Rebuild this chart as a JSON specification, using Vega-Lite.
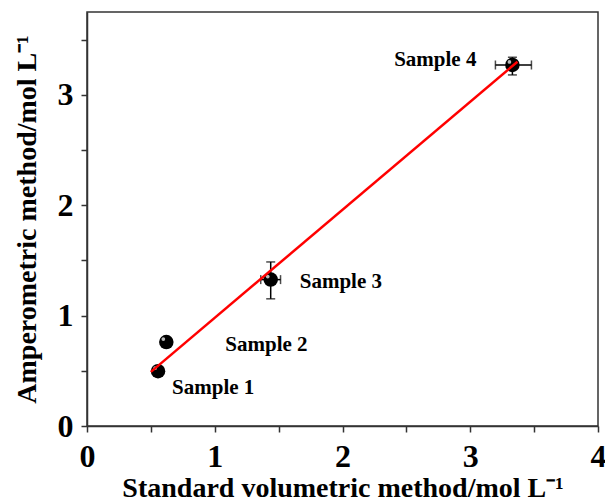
{
  "$schema": "https://vega.github.io/schema/vega-lite/v6.json",
  "width": 511,
  "height": 414,
  "autosize": {"type": "none"},
  "padding": {"left": 87, "top": 12, "right": 7, "bottom": 77},
  "background": "white",
  "config": {
    "view": {"stroke": "#333333", "strokeWidth": 1.5},
    "font": "Liberation Serif",
    "axis": {
      "grid": false,
      "domainColor": "#333333",
      "domainWidth": 1.5,
      "tickColor": "#333333",
      "tickWidth": 1.5,
      "tickSize": 6,
      "labelFont": "Liberation Serif",
      "labelFontWeight": "bold",
      "labelFontSize": 32,
      "labelColor": "black",
      "labelOverlap": false,
      "labelFlush": false,
      "titleFont": "Liberation Serif",
      "titleFontWeight": "bold",
      "titleFontSize": 28,
      "titleColor": "black"
    }
  },
  "datasets": {
    "pts": [
      {"sample": "Sample 1", "x": 0.556, "y": 0.497, "xlo": 0.54, "xhi": 0.57, "ylo": 0.48, "yhi": 0.51},
      {"sample": "Sample 2", "x": 0.621, "y": 0.76, "xlo": 0.61, "xhi": 0.63, "ylo": 0.745, "yhi": 0.775},
      {"sample": "Sample 3", "x": 1.438, "y": 1.326, "xlo": 1.36, "xhi": 1.515, "ylo": 1.152, "yhi": 1.486},
      {"sample": "Sample 4", "x": 3.33, "y": 3.27, "xlo": 3.197, "xhi": 3.479, "ylo": 3.18, "yhi": 3.34}
    ],
    "fit": [
      {"x": 0.5, "y": 0.49},
      {"x": 3.37, "y": 3.30}
    ]
  },
  "layer": [
    {
      "data": {"name": "pts"},
      "mark": {"type": "rule", "color": "black", "strokeWidth": 1.5},
      "encoding": {
        "x": {"field": "x", "type": "quantitative", "scale": {"domain": [0, 4], "nice": false},
          "axis": {"values": [0, 0.5, 1, 1.5, 2, 2.5, 3, 3.5, 4], "labelExpr": "datum.value % 1 === 0 ? format(datum.value, 'd') : ''", "title": "Standard volumetric method/mol L⁻¹", "labelPadding": 9, "titlePadding": 2}},
        "y": {"field": "ylo", "type": "quantitative", "scale": {"domain": [0, 3.75], "nice": false},
          "axis": {"values": [0, 0.5, 1, 1.5, 2, 2.5, 3, 3.5], "labelExpr": "datum.value % 1 === 0 ? format(datum.value, 'd') : ''", "title": "Amperometric method/mol L⁻¹", "labelPadding": 8, "titlePadding": 16}},
        "y2": {"field": "yhi"}
      }
    },
    {
      "data": {"name": "pts"},
      "mark": {"type": "rule", "color": "black", "strokeWidth": 1.5},
      "encoding": {
        "x": {"field": "xlo", "type": "quantitative"},
        "x2": {"field": "xhi"},
        "y": {"field": "y", "type": "quantitative"}
      }
    },
    {
      "data": {"name": "pts"},
      "mark": {"type": "tick", "orient": "horizontal", "color": "black", "thickness": 1.5, "size": 9},
      "encoding": {"x": {"field": "x", "type": "quantitative"}, "y": {"field": "ylo", "type": "quantitative"}}
    },
    {
      "data": {"name": "pts"},
      "mark": {"type": "tick", "orient": "horizontal", "color": "black", "thickness": 1.5, "size": 9},
      "encoding": {"x": {"field": "x", "type": "quantitative"}, "y": {"field": "yhi", "type": "quantitative"}}
    },
    {
      "data": {"name": "pts"},
      "mark": {"type": "tick", "orient": "vertical", "color": "black", "thickness": 1.5, "size": 9},
      "encoding": {"x": {"field": "xlo", "type": "quantitative"}, "y": {"field": "y", "type": "quantitative"}}
    },
    {
      "data": {"name": "pts"},
      "mark": {"type": "tick", "orient": "vertical", "color": "black", "thickness": 1.5, "size": 9},
      "encoding": {"x": {"field": "xhi", "type": "quantitative"}, "y": {"field": "y", "type": "quantitative"}}
    },
    {
      "data": {"name": "pts"},
      "mark": {"type": "point", "filled": true, "shape": "circle", "size": 210, "color": "black", "opacity": 1},
      "encoding": {"x": {"field": "x", "type": "quantitative"}, "y": {"field": "y", "type": "quantitative"}}
    },
    {
      "data": {"name": "pts"},
      "mark": {"type": "point", "filled": true, "shape": "circle", "size": 14, "color": "#bbbbbb", "opacity": 1, "xOffset": -3, "yOffset": -3},
      "encoding": {"x": {"field": "x", "type": "quantitative"}, "y": {"field": "y", "type": "quantitative"}}
    },
    {
      "data": {"name": "fit"},
      "mark": {"type": "line", "color": "#ff0000", "strokeWidth": 2.5},
      "encoding": {"x": {"field": "x", "type": "quantitative"}, "y": {"field": "y", "type": "quantitative"}}
    },
    {
      "data": {"name": "pts"},
      "transform": [{"filter": "datum.sample === 'Sample 1'"}],
      "mark": {"type": "text", "font": "Liberation Serif", "fontWeight": "bold", "fontSize": 21, "align": "left", "baseline": "middle", "dx": 14, "dy": 17, "color": "black"},
      "encoding": {"x": {"field": "x", "type": "quantitative"}, "y": {"field": "y", "type": "quantitative"}, "text": {"field": "sample"}}
    },
    {
      "data": {"name": "pts"},
      "transform": [{"filter": "datum.sample === 'Sample 2'"}],
      "mark": {"type": "text", "font": "Liberation Serif", "fontWeight": "bold", "fontSize": 21, "align": "left", "baseline": "middle", "dx": 59, "dy": 3, "color": "black"},
      "encoding": {"x": {"field": "x", "type": "quantitative"}, "y": {"field": "y", "type": "quantitative"}, "text": {"field": "sample"}}
    },
    {
      "data": {"name": "pts"},
      "transform": [{"filter": "datum.sample === 'Sample 3'"}],
      "mark": {"type": "text", "font": "Liberation Serif", "fontWeight": "bold", "fontSize": 21, "align": "left", "baseline": "middle", "dx": 29, "dy": 2, "color": "black"},
      "encoding": {"x": {"field": "x", "type": "quantitative"}, "y": {"field": "y", "type": "quantitative"}, "text": {"field": "sample"}}
    },
    {
      "data": {"name": "pts"},
      "transform": [{"filter": "datum.sample === 'Sample 4'"}],
      "mark": {"type": "text", "font": "Liberation Serif", "fontWeight": "bold", "fontSize": 21, "align": "right", "baseline": "middle", "dx": -36, "dy": -5, "color": "black"},
      "encoding": {"x": {"field": "x", "type": "quantitative"}, "y": {"field": "y", "type": "quantitative"}, "text": {"field": "sample"}}
    }
  ]
}
